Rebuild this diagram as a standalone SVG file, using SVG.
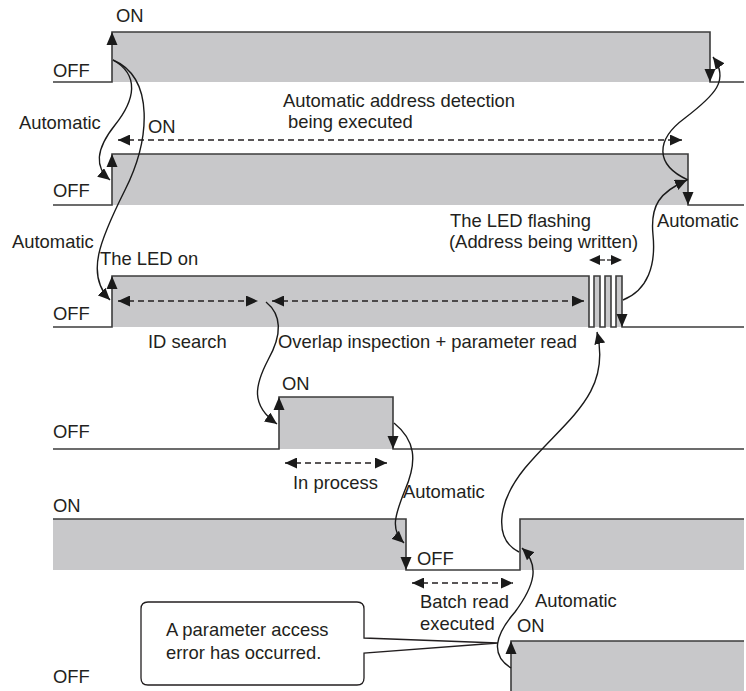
<svg xmlns="http://www.w3.org/2000/svg" width="746" height="691" viewBox="0 0 746 691">
<style>
.t{font-family:"Liberation Sans",Arial,sans-serif;font-size:18.4px;fill:#231f20}
.fill{fill:#c8c8ca;stroke:none}
.w{fill:none;stroke:#3c3c3c;stroke-width:1.6}
.ah{fill:#1a1a1a}
.dash{fill:none;stroke:#231f20;stroke-width:1.3;stroke-dasharray:6 4}
.cv{fill:none;stroke:#1a1a1a;stroke-width:1.4}
</style>
<defs>
<marker id="arr" markerUnits="userSpaceOnUse" markerWidth="13" markerHeight="11" refX="12" refY="5.5" orient="auto">
<path d="M0,0 L12,5.5 L0,11 Z" fill="#1a1a1a"/>
</marker>
<marker id="arrS" markerUnits="userSpaceOnUse" markerWidth="13" markerHeight="11" refX="0" refY="5.5" orient="auto">
<path d="M12,0 L0,5.5 L12,11 Z" fill="#1a1a1a"/>
</marker>
</defs>

<g id="row1">
<rect class="fill" x="112" y="32" width="598" height="50"/>
<polyline class="w" points="53,82 112,82 112,32 710,32 710,82 744,82"/>
<polygon class="ah" points="112,32 106.5,45 117.5,45"/>
<polygon class="ah" points="710,82 704.5,69 715.5,69"/>
<text class="t" x="116" y="22">ON</text>
<text class="t" x="53" y="77">OFF</text>
</g>

<g id="row2">
<rect class="fill" x="112" y="154" width="576" height="51"/>
<polyline class="w" points="53,205 112,205 112,154 688,154 688,205 744,205"/>
<polygon class="ah" points="112,154 106.5,167 117.5,167"/>
<polygon class="ah" points="688,205 682.5,192 693.5,192"/>
<text class="t" x="148" y="133">ON</text>
<text class="t" x="53" y="197">OFF</text>
<text class="t" x="283" y="107">Automatic address detection</text>
<text class="t" x="288" y="128">being executed</text>
<line class="dash" x1="118" y1="140" x2="682" y2="140" marker-start="url(#arrS)" marker-end="url(#arr)"/>
</g>

<g id="row3">
<rect class="fill" x="112" y="276" width="477" height="51"/>
<rect class="fill" x="594" y="276" width="6" height="51"/>
<rect class="fill" x="605" y="276" width="6" height="51"/>
<rect class="fill" x="616" y="276" width="6" height="51"/>
<polyline class="w" points="53,327 112,327 112,276 589,276 589,327 594,327 594,276 600,276 600,327 605,327 605,276 611,276 611,327 616,327 616,276 622,276 622,327 744,327"/>
<polygon class="ah" points="112,276 106.5,289 117.5,289"/>
<polygon class="ah" points="622,327 616.5,314 627.5,314"/>
<text class="t" x="100" y="265">The LED on</text>
<text class="t" x="53" y="320">OFF</text>
<text class="t" x="148" y="348">ID search</text>
<text class="t" x="278" y="348">Overlap inspection + parameter read</text>
<text class="t" x="450" y="227">The LED flashing</text>
<text class="t" x="449" y="248">(Address being written)</text>
<line class="dash" x1="118" y1="301" x2="258" y2="301" marker-start="url(#arrS)" marker-end="url(#arr)"/>
<line class="dash" x1="272" y1="301" x2="584" y2="301" marker-start="url(#arrS)" marker-end="url(#arr)"/>
<line x1="600" y1="260" x2="605" y2="260" stroke="#231f20" stroke-width="1.3"/>
<line x1="607" y1="260" x2="611" y2="260" stroke="#231f20" stroke-width="1.3"/>
<polygon class="ah" points="589,260 600,255 600,265"/>
<polygon class="ah" points="622,260 611,255 611,265"/>
</g>

<g id="row4">
<rect class="fill" x="279" y="397" width="114" height="52"/>
<polyline class="w" points="53,449 279,449 279,397 393,397 393,449 744,449"/>
<polygon class="ah" points="279,397 273.5,410 284.5,410"/>
<polygon class="ah" points="393,449 387.5,436 398.5,436"/>
<text class="t" x="282" y="390">ON</text>
<text class="t" x="53" y="438">OFF</text>
<text class="t" x="293" y="489">In process</text>
<line class="dash" x1="285" y1="463" x2="387" y2="463" marker-start="url(#arrS)" marker-end="url(#arr)"/>
</g>

<g id="row5">
<rect class="fill" x="53" y="519" width="353" height="51"/>
<rect class="fill" x="520" y="519" width="224" height="51"/>
<polyline class="w" points="53,519 406,519 406,570 520,570 520,519 744,519"/>
<polygon class="ah" points="406,570 400.5,557 411.5,557"/>
<text class="t" x="53" y="512">ON</text>
<text class="t" x="417" y="565">OFF</text>
<text class="t" x="420" y="608">Batch read</text>
<text class="t" x="420" y="630">executed</text>
<line class="dash" x1="412" y1="583" x2="513" y2="583" marker-start="url(#arrS)" marker-end="url(#arr)"/>
</g>

<g id="row6">
<rect class="fill" x="511" y="641" width="233" height="50"/>
<polyline class="w" points="511,691 511,641 744,641"/>
<polygon class="ah" points="511,641 505.5,654 516.5,654"/>
<text class="t" x="517" y="632">ON</text>
<text class="t" x="53" y="683">OFF</text>
</g>

<g id="labels">
<text class="t" x="19" y="129">Automatic</text>
<text class="t" x="12" y="248">Automatic</text>
<text class="t" x="657" y="227">Automatic</text>
<text class="t" x="403" y="498">Automatic</text>
<text class="t" x="535" y="607">Automatic</text>
</g>

<g id="callout">
<path d="M148,602 H357 Q364,602 364,609 V638 L498,643 L364,653 V678 Q364,685 357,685 H148 Q141,685 141,678 V609 Q141,602 148,602 Z" fill="#fff" stroke="#231f20" stroke-width="1.3"/>
<text class="t" x="166" y="636">A parameter access</text>
<text class="t" x="166" y="659">error has occurred.</text>
</g>

<g id="connectors">
<path class="cv" d="M113,60 C140,75 135,100 115,125 C95,150 95,168 110,180" marker-end="url(#arr)"/>
<path class="cv" d="M113,60 C155,78 150,140 125,190 C100,240 85,275 110,300" marker-end="url(#arr)"/>
<path class="cv" d="M266,302 C282,315 282,335 268,360 C255,385 250,405 277,424" marker-end="url(#arr)"/>
<path class="cv" d="M394,423 C415,440 418,460 405,490 C395,515 390,530 404,543" marker-end="url(#arr)"/>
<path class="cv" d="M519,552 C495,540 495,505 525,468 C565,420 612,395 597,332" marker-end="url(#arr)"/>
<path class="cv" d="M511,668 C490,655 495,635 515,612 C535,585 540,565 522,548" marker-end="url(#arr)"/>
<path class="cv" d="M623,300 C648,290 656,265 653,235 C650,205 660,192 687,180" marker-end="url(#arr)"/>
<path class="cv" d="M688,180 C655,165 655,140 685,118 C715,95 730,80 713,57" marker-end="url(#arr)"/>
</g>
</svg>
